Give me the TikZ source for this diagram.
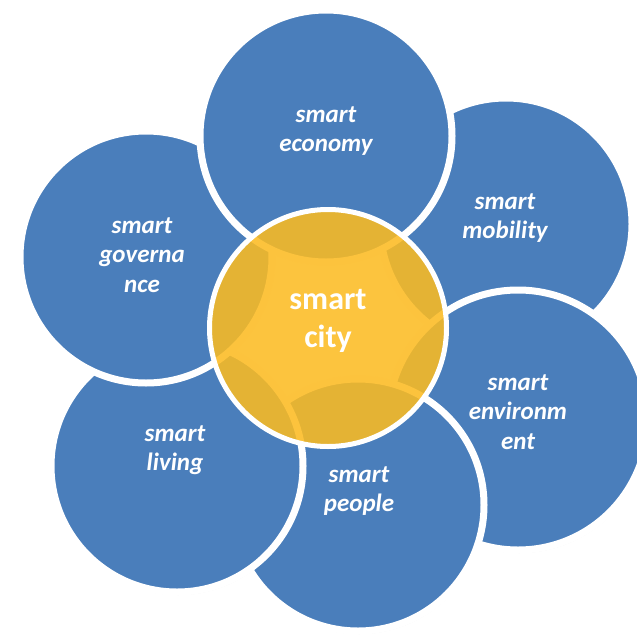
\documentclass[tikz,border=0pt]{standalone}
\usepackage{fontspec}
\setmainfont{Carlito}
\usetikzlibrary{shadows}
\definecolor{petalblue}{HTML}{4A7EBB}
\definecolor{coreyellow}{HTML}{FCBB21}

\begin{document}
\begin{tikzpicture}[x=1pt,y=-1pt]
\tikzset{
    petal/.style     = {circle, draw=white, line width=7pt, fill=petalblue, minimum size=252pt, inner sep=0pt,
                        drop shadow={shadow xshift=1pt, shadow yshift=-3pt, opacity=0.18}},
    core/.style      = {circle, draw=white, line width=5pt, fill=coreyellow, fill opacity=0.87, draw opacity=1,
                        minimum size=237pt, inner sep=0pt},
    petaltext/.style = {align=center, text=white, font=\fontsize{25}{29.5}\selectfont\bfseries\itshape},
    coretext/.style  = {align=center, text=white, font=\fontsize{32}{38}\selectfont\bfseries}
}
\useasboundingbox (0,0) rectangle (637,640);
% petals, from the bottom layer up
\node [petal] (mobility)    at (506,224) {};
\node [petal, minimum size=260pt] (environment) at (518,420) {};
\node [petal] (people)      at (358,505) {};
\node [petal] (living)      at (177,466) {};
\node [petal] (governance)  at (146,257) {};
\node [petal] (economy)     at (326,136) {};
% centre
\node [core] (city) at (328,328) {};
% labels
\node [petaltext] (economy-text)     at (326,131) {smart\\economy};
\node [petaltext] (mobility-text)    at (505,218) {smart\\mobility};
\node [petaltext] (governance-text)  at (142,255) {smart\\governa\\nce};
\node [petaltext] (environment-text) at (518,412) {smart\\environm\\ent};
\node [petaltext] (living-text)      at (175,450) {smart\\living};
\node [petaltext] (people-text)      at (359,491) {smart\\people};
\node [coretext]  (city-text)        at (328,321) {smart\\city};
\end{tikzpicture}
\end{document}
